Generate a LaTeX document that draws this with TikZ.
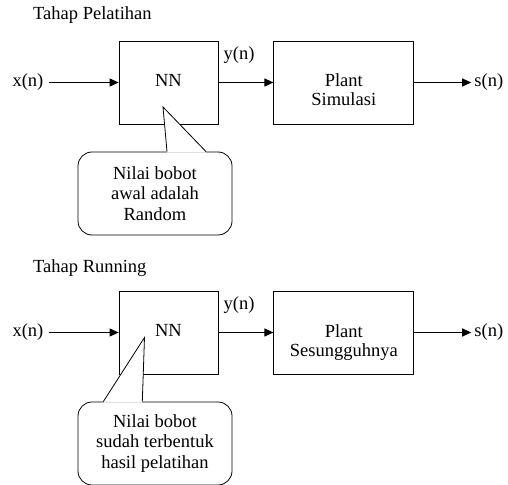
\documentclass[tikz,border=0pt]{standalone}
\usepackage{fontspec}
\setmainfont{Liberation Serif}
\usetikzlibrary{arrows.meta,positioning,calc}

\begin{document}
\begin{tikzpicture}[x=1pt,y=-1pt,
    box/.style={draw,line width=0.8pt,minimum width=99pt,minimum height=83pt,
                inner sep=0pt,align=center,text height=13pt,text depth=4.6pt,
                font=\fontsize{18.5}{19}\selectfont},
    plant/.style={box,minimum width=140pt,text height=50pt,text depth=3pt},
    sig/.style={inner sep=0pt,font=\fontsize{18.5}{19}\selectfont},
    ttl/.style={anchor=base west,inner sep=0pt,font=\fontsize{18.5}{19}\selectfont},
    arr/.style={-{Triangle[length=9pt,width=8pt]},line width=1.1pt},
    note/.style={draw,line width=0.8pt,fill=white,rounded corners=14pt,
                 minimum width=154pt,minimum height=83pt,inner sep=0pt,
                 align=center,font=\fontsize{18.5}{20.7}\selectfont},
    tail/.style={line width=0.8pt},
  ]
  \useasboundingbox (0,0) rectangle (508,484);

  \node[ttl] (t1) at (33,20) {Tahap Pelatihan};
  \node[box] (nn1) at (168.5,82.5) {NN};
  \node[plant,right=55pt of nn1] (pl1) {Plant\\Simulasi};
  \node[sig,left=75pt of nn1] (x1) {x(n)};
  \node[sig,right=60pt of pl1] (s1) {s(n)};
  \node[sig,above right=18.5pt and 5pt of nn1.east] (y1) {y(n)};
  \draw[arr,shorten <=5pt] (x1) -- (nn1);
  \draw[arr] (nn1) -- (pl1);
  \draw[arr,shorten >=3pt] (pl1) -- (s1);
  \node[note] (n1) at (155,193.5) {Nilai bobot\\awal adalah\\Random};
  \coordinate (tip1) at ($(nn1)+(-5.5,24.5)$);
  \coordinate (bl1) at ($(n1.north)+(12,0)$);
  \coordinate (br1) at ($(n1.north)+(51,0)$);
  \fill[white] (tip1) -- ($(bl1)+(0,1)$) -- ($(br1)+(0,1)$) -- cycle;
  \draw[tail] (bl1) -- (tip1) -- (br1);

  \node[ttl] (t2) at (33,272) {Tahap Running};
  \node[box] (nn2) at (168.5,332.5) {NN};
  \node[plant,right=55pt of nn2] (pl2) {Plant\\Sesungguhnya};
  \node[sig,left=75pt of nn2] (x2) {x(n)};
  \node[sig,right=60pt of pl2] (s2) {s(n)};
  \node[sig,above right=18.5pt and 5pt of nn2.east] (y2) {y(n)};
  \draw[arr,shorten <=5pt] (x2) -- (nn2);
  \draw[arr] (nn2) -- (pl2);
  \draw[arr,shorten >=3pt] (pl2) -- (s2);
  \node[note] (n2) at (155,443.5) {Nilai bobot\\sudah terbentuk\\hasil pelatihan};
  \coordinate (tip2) at ($(nn2)+(-24,5)$);
  \coordinate (bl2) at ($(n2.north)+(-51.7,0)$);
  \coordinate (br2) at ($(n2.north)+(-12.7,0)$);
  \fill[white] (tip2) -- ($(bl2)+(0,1)$) -- ($(br2)+(0,1)$) -- cycle;
  \draw[tail] (bl2) -- (tip2) -- (br2);
\end{tikzpicture}
\end{document}
